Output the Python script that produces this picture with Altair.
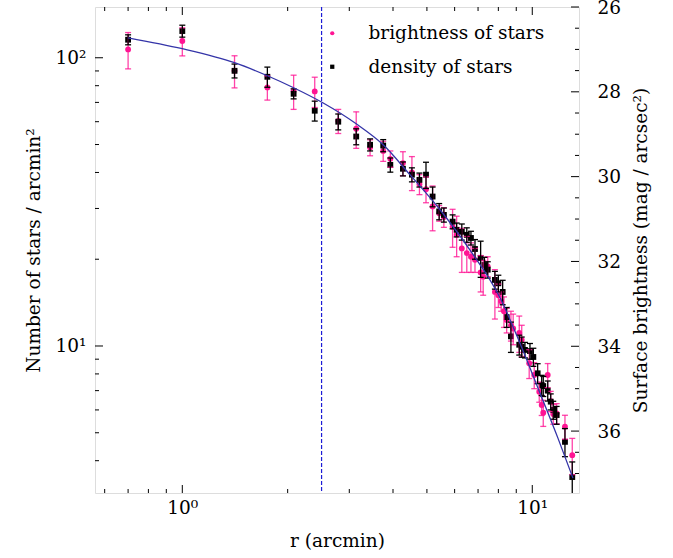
import altair as alt
import pandas as pd

# Radial density of stars (black squares): radius [arcmin], counts [stars / arcmin^2], 1-sigma errors
DENS_R = [0.70, 1.00, 1.41, 1.75, 2.08, 2.39, 2.79, 3.14, 3.44, 3.75, 3.93, 4.27, 4.53, 4.76, 4.97,
          5.19, 5.42, 5.59, 5.92, 6.08, 6.29, 6.50, 6.68, 6.86, 7.12, 7.30, 7.46, 7.82, 8.00, 8.23,
          8.45, 8.69, 9.18, 9.33, 9.53, 9.85, 10.07, 10.36, 10.64, 10.75, 11.07, 11.29, 11.48, 11.74,
          12.40, 13.01]
DENS_N = [115.5, 123.8, 90.1, 85.9, 75.0, 65.5, 60.0, 53.3, 49.9, 49.6, 42.5, 41.2, 39.3, 37.7, 39.3,
          33.0, 29.3, 28.5, 27.0, 25.3, 24.9, 24.3, 23.7, 21.7, 20.2, 19.1, 18.4, 16.95, 16.5, 15.4,
          12.6, 10.8, 10.1, 9.94, 9.69, 9.6, 9.16, 8.04, 7.32, 7.26, 7.00, 6.41, 6.00, 5.76,
          4.65, 3.51]
DENS_ERR = [4.6, 5.9, 5.0, 6.9, 3.0, 5.2, 3.8, 3.4, 2.4, 2.4, 2.4, 2.3, 2.2, 2.1, 4.1,
            2.6, 1.9, 1.6, 1.5, 1.4, 1.6, 1.4, 1.3, 1.7, 2.9, 1.2, 1.2, 1.2, 1.1, 1.5,
            1.0, 1.3, 0.8, 0.8, 0.6, 0.6, 0.66, 0.64, 0.59, 0.58, 0.56, 0.41, 0.43, 0.41,
            0.52, 0.45]

# Surface brightness profile expressed as star counts (pink circles)
BRIGHT_R = [0.70, 1.00, 1.41, 1.75, 2.08, 2.39, 2.79, 3.14, 3.44, 3.75, 3.93, 4.27, 4.53, 4.76, 4.97,
            5.19, 5.42, 5.59, 5.92, 6.08, 6.29, 6.50, 6.68, 6.86, 7.12, 7.24, 7.46, 7.82, 8.00, 8.15,
            8.30, 8.45, 8.69, 8.82, 9.18, 9.33, 9.80, 10.13, 10.47, 10.64, 10.75, 11.07, 11.29, 11.48,
            11.74, 12.40, 13.01]
BRIGHT_N = [106.9, 114.3, 90.1, 78.9, 76.6, 76.4, 60.4, 56.7, 48.8, 47.5, 44.6, 43.1, 40.0, 36.4, 35.0,
            30.5, 28.9, 28.0, 25.9, 24.3, 21.8, 21.0, 20.4, 19.9, 18.0, 17.4, 18.9, 15.4, 15.0, 14.3,
            13.2, 12.3, 11.8, 11.5, 11.1, 10.5, 8.71, 7.93, 6.94, 6.24, 5.87, 7.93, 6.44, 5.81,
            5.84, 5.25, 4.18]
BRIGHT_ERR = [15.4, 12.8, 11.5, 7.6, 10.4, 9.2, 5.8, 8.2, 3.1, 3.8, 2.9, 4.1, 5.4, 2.9, 3.6,
              5.4, 1.8, 2.2, 3.9, 3.9, 3.8, 3.0, 2.4, 1.9, 2.6, 2.4, 1.5, 3.0, 1.4, 1.1,
              1.6, 1.2, 1.4, 1.4, 1.6, 1.3, 1.0, 0.82, 0.56, 0.50, 0.61, 0.76, 0.52, 0.46,
              0.47, 0.50, 0.60]

# Fitted profile
FIT_R = [0.70, 1.00, 1.41, 1.75, 2.08, 2.52, 3.14, 3.75, 4.47, 5.45, 6.64, 8.09, 9.23, 10.52, 11.84, 13.07]
FIT_N = [117.3, 107.5, 96.1, 86.6, 78.7, 69.8, 59.0, 49.9, 39.3, 29.7, 21.5, 14.7, 10.2, 6.87, 4.79, 3.48]

# Core radius marker
CORE_R = [2.5]

# Tick positions
X_MAJOR = [1, 10]
X_MINOR = [0.6, 0.7, 0.8, 0.9, 2, 3, 4, 5, 6, 7, 8, 9]
Y_MAJOR = [10, 100]
Y_MINOR = [4, 5, 6, 7, 8, 9, 20, 30, 40, 50, 60, 70, 80, 90]
MAG_MAJOR = [26, 28, 30, 32, 34, 36]
MAG_MINOR = [26.5, 27, 27.5, 28.5, 29, 29.5, 30.5, 31, 31.5, 32.5, 33, 33.5, 34.5, 35, 35.5, 36.5, 37]

SERIES = ["brightness of stars", "density of stars"]

W, H = 484, 486
FONT = "DejaVu Serif"
FS = 18.5
PINK = "#ff1493"

xs = alt.Scale(type="log", domain=[0.563, 13.6], nice=False)
ys = alt.Scale(type="log", domain=[3.09, 150], nice=False)
ms = alt.Scale(type="linear", domain=[26, 37.46], nice=False, zero=False, reverse=True)


def frame(r, n, err, name):
    df = pd.DataFrame({"r": r, "n": n, "err": err})
    df["lo"] = df["n"] - df["err"]
    df["hi"] = df["n"] + df["err"]
    df["series"] = name
    return df


bright = frame(BRIGHT_R, BRIGHT_N, BRIGHT_ERR, SERIES[0])
dens = frame(DENS_R, DENS_N, DENS_ERR, SERIES[1])
points = pd.concat([bright, dens], ignore_index=True)
fit = pd.DataFrame({"r": FIT_R, "n": FIT_N})


def errorbars(df, color, opacity):
    base = alt.Chart(df).encode(x=alt.X("r:Q", scale=xs, axis=None))
    stem = base.mark_rule(color=color, opacity=opacity, strokeWidth=1.3, clip=True).encode(
        y=alt.Y("lo:Q", scale=ys, axis=None), y2="hi:Q")
    cap_lo = base.mark_tick(color=color, opacity=opacity, size=6, thickness=1.3,
                            orient="horizontal", clip=True).encode(y=alt.Y("lo:Q", scale=ys, axis=None))
    cap_hi = base.mark_tick(color=color, opacity=opacity, size=6, thickness=1.3,
                            orient="horizontal", clip=True).encode(y=alt.Y("hi:Q", scale=ys, axis=None))
    return [stem, cap_lo, cap_hi]


legend = alt.Legend(title=None, orient="none", legendX=228, legendY=17, symbolSize=18,
                    symbolStrokeWidth=0, labelFont=FONT, labelFontSize=FS, labelColor="black",
                    labelOffset=27, labelLimit=400, rowPadding=14.5, padding=0)

markers = alt.Chart(points).mark_point(filled=True, opacity=1, size=34).encode(
    x=alt.X("r:Q", scale=xs,
            axis=alt.Axis(orient="bottom", values=X_MAJOR, ticks=False, domain=False, grid=False,
                          labelExpr="datum.value < 5 ? '10⁰' : '10¹'",
                          labelFont=FONT, labelFontSize=FS, labelColor="black", labelPadding=5,
                          title="r (arcmin)", titleFont=FONT, titleFontSize=FS,
                          titleFontWeight="normal", titleColor="black", titlePadding=15)),
    y=alt.Y("n:Q", scale=ys,
            axis=alt.Axis(orient="left", values=Y_MAJOR, ticks=False, domain=False, grid=False,
                          labelExpr="datum.value > 50 ? '10²' : '10¹'",
                          labelFont=FONT, labelFontSize=FS, labelColor="black", labelPadding=9,
                          title="Number of stars / arcmin²", titleFont=FONT, titleFontSize=FS,
                          titleFontWeight="normal", titleColor="black", titlePadding=12)),
    color=alt.Color("series:N", scale=alt.Scale(domain=SERIES, range=[PINK, "black"]), legend=legend),
    shape=alt.Shape("series:N", scale=alt.Scale(domain=SERIES, range=["circle", "square"]), legend=legend),
)

fit_line = alt.Chart(fit).mark_line(color="#3434a8", strokeWidth=1.3, interpolate="monotone",
                                    clip=True).encode(
    x=alt.X("r:Q", scale=xs, axis=None),
    y=alt.Y("n:Q", scale=ys, axis=None),
)

core = alt.Chart(pd.DataFrame({"r": CORE_R})).mark_rule(
    color="#1c1cd6", strokeWidth=1.2, strokeDash=[4, 2]).encode(x=alt.X("r:Q", scale=xs, axis=None))


def x_ticks(vals, length):
    base = alt.Chart(pd.DataFrame({"v": vals})).encode(x=alt.X("v:Q", scale=xs, axis=None))
    bottom = base.mark_rule(color="black").encode(y=alt.value(H), y2=alt.value(H - length))
    top = base.mark_rule(color="black").encode(y=alt.value(0), y2=alt.value(length))
    return [bottom, top]


def y_ticks(vals, length):
    return alt.Chart(pd.DataFrame({"v": vals})).mark_rule(color="black").encode(
        y=alt.Y("v:Q", scale=ys, axis=None), x=alt.value(0), x2=alt.value(length))


def mag_ticks(vals, length, axis):
    return alt.Chart(pd.DataFrame({"v": vals})).mark_rule(color="black").encode(
        y=alt.Y("v:Q", scale=ms, axis=axis), x=alt.value(W), x2=alt.value(W - length))


mag_axis = alt.Axis(orient="right", values=MAG_MAJOR, ticks=False, domain=False, grid=False,
                    format="d", labelFont=FONT, labelFontSize=FS, labelColor="black", labelPadding=18,
                    title="Surface brightness (mag / arcsec²)", titleFont=FONT, titleFontSize=FS,
                    titleFontWeight="normal", titleColor="black", titleAngle=270, titlePadding=30)

layers = (
    [markers]
    + errorbars(bright, PINK, 0.8)
    + errorbars(dens, "black", 1.0)
    + [fit_line, core]
    + x_ticks(X_MAJOR, 8) + x_ticks(X_MINOR, 4)
    + [y_ticks(Y_MAJOR, 8), y_ticks(Y_MINOR, 4)]
    + [mag_ticks(MAG_MAJOR, 8, mag_axis), mag_ticks(MAG_MINOR, 4, None)]
)

chart = (
    alt.layer(*layers)
    .resolve_scale(y="independent")
    .resolve_axis(x="independent", y="independent")
    .properties(width=W, height=H, autosize=alt.AutoSizeParams(type="none"),
                padding={"left": 95, "top": 7, "right": 94, "bottom": 65})
    .configure_view(stroke="black", strokeWidth=1)
    .configure(background="white")
)

chart.save("out.html", embed_options={"renderer": "svg", "actions": False})
